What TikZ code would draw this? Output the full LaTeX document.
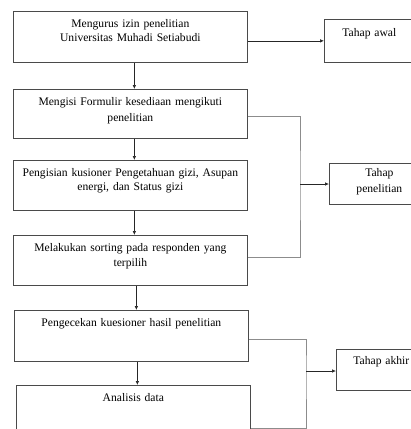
\documentclass[tikz,border=0pt]{standalone}
\usepackage{fontspec}
\setmainfont{Liberation Serif}
\usetikzlibrary{arrows.meta}

\definecolor{boxgray}{HTML}{4A4A4A}
\definecolor{linkgray}{HTML}{8C8C8C}

\tikzset{
    stepbox/.style={draw=boxgray, line width=0.7pt, anchor=north west, inner sep=0pt,
        align=center, text height=16pt, font=\fontsize{11.6}{15}\selectfont},
    phasebox/.style={stepbox, text height=15pt},
    arr/.style={draw=black!85, line width=0.7pt, -{Latex[length=4pt,width=3.6pt]}},
    link/.style={draw=linkgray, line width=0.7pt},
}

\begin{document}
\begin{tikzpicture}[x=1pt, y=-1pt]
        \useasboundingbox (0,0) rectangle (411,429);
        \clip (0,0) rectangle (411,429);
        \node[stepbox, text width=234pt, text depth=35pt] (mengurus) at (13,11)
            {Mengurus izin penelitian\\[-1pt]Universitas Muhadi Setiabudi};
        \node[stepbox, text width=234pt, text depth=33pt] (formulir) at (13,89)
            {Mengisi Formulir kesediaan mengikuti\\[1pt]penelitian};
        \node[stepbox, text width=234pt, text depth=34pt] (kusioner) at (13,160)
            {Pengisian kusioner Pengetahuan gizi, Asupan\\[-1pt]energi, dan Status gizi};
        \node[stepbox, text width=234pt, text depth=34pt] (sorting) at (13,235)
            {Melakukan sorting pada responden yang\\terpilih};
        \node[stepbox, text width=234pt, text depth=35pt] (cek) at (14,310)
            {Pengecekan kuesioner hasil penelitian};
        \node[stepbox, text width=234pt, text depth=60pt] (analisis) at (16,385)
            {Analisis data};
        \node[phasebox, text width=90pt, text height=17pt, text depth=26pt] (awal) at (324,19)
            {Tahap awal};
        \node[phasebox, text width=100pt, text height=13.5pt, text depth=27.5pt] (penelitian) at (329,163)
            {Tahap\\[1pt]penelitian};
        \node[phasebox, text width=90pt, text height=15.5pt, text depth=25.5pt] (akhir) at (336,349)
            {Tahap akhir};
        \coordinate (jp) at (300,184);
        \coordinate (ja) at (306,371);
        \draw[arr] (mengurus.east |- awal.west) -- (awal.west);
        \draw[arr] ([xshift=4pt]mengurus.south) -- ([xshift=4pt]mengurus.south |- formulir.north);
        \draw[arr] ([xshift=4pt]formulir.south) -- ([xshift=4pt]formulir.south |- kusioner.north);
        \draw[arr] ([xshift=4pt]kusioner.south) -- ([xshift=4pt]kusioner.south |- sorting.north);
        \draw[arr] ([xshift=6pt]sorting.south) -- ([xshift=6pt]sorting.south |- cek.north);
        \draw[arr] ([xshift=6pt]cek.south) -- ([xshift=6pt]cek.south |- analisis.north);
        \draw[link] ([yshift=-2.5pt]formulir.east) -| (jp) |- ([yshift=3pt]sorting.east);
        \draw[arr] (jp) -- (penelitian.west |- jp);
        \draw[link] ([yshift=-3.5pt]cek.east) -| (ja) |- ([yshift=-5pt]analisis.east);
        \draw[arr] (ja) -- (akhir.west |- ja);
\end{tikzpicture}
\end{document}
